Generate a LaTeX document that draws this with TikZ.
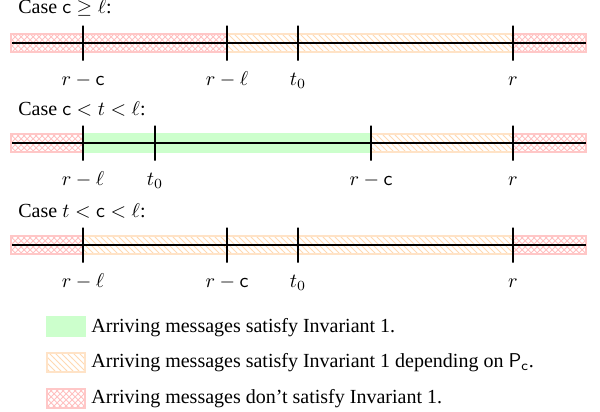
\documentclass[tikz,border=0pt]{standalone}
\usepackage[no-math]{fontspec}
\setmainfont{Liberation Serif}
\usetikzlibrary{patterns}
\begin{document}
\begin{tikzpicture}[x=0.5pt,y=-0.5pt,
  band/.style={line width=1pt},
  okband/.style={band, fill=green!20, draw=green!20},
  maybeband/.style={band, draw=orange!22, pattern=north west lines, pattern color=orange!30},
  badband/.style={band, draw=red!22, pattern=crosshatch, pattern color=red!25},
  axis/.style={line width=1pt},
  tickmark/.style={draw, line width=1.3pt, minimum width=0pt, minimum height=17.5pt, inner sep=0pt, outer sep=0pt},
  lbl/.style={anchor=base, inner sep=0pt},
  case/.style={anchor=base west, inner sep=0pt},
  swatch/.style={minimum width=19pt, minimum height=9.5pt, inner sep=0pt},
  legtxt/.style={anchor=base west, inner sep=0pt}]
\useasboundingbox (0,0) rectangle (600,412);
% ---------- Row 1 ----------
\node[case] (case1) at (18,13.5) {Case $\mathsf{c}\geq\ell$:};
\draw[badband] (11,34) rectangle (227,52);
\draw[maybeband] (227,34) rectangle (513,52);
\draw[badband] (513,34) rectangle (586,52);
\coordinate (a1s) at (12,43); \coordinate (a1e) at (586,43);
\draw[axis] (a1s) -- (a1e);
\foreach \x/\t/\n in {83/{r-\mathsf{c}}/a, 227/{r-\ell}/b, 298/{t_0}/c, 513/{r}/d}{
  \node[tickmark] (t1\n) at (\x,43) {};
  \node[lbl] (l1\n) at (\x,85) {$\t$};
}
% ---------- Row 2 ----------
\node[case] (case2) at (18,115) {Case $\mathsf{c}<t<\ell$:};
\draw[badband] (11,134) rectangle (83,152);
\draw[okband] (83,134) rectangle (371,152);
\draw[maybeband] (371,134) rectangle (513,152);
\draw[badband] (513,134) rectangle (586,152);
\coordinate (a2s) at (12,143); \coordinate (a2e) at (586,143);
\draw[axis] (a2s) -- (a2e);
\foreach \x/\t/\n in {83/{r-\ell}/a, 155/{t_0}/b, 371/{r-\mathsf{c}}/c, 513/{r}/d}{
  \node[tickmark] (t2\n) at (\x,143) {};
  \node[lbl] (l2\n) at (\x,185) {$\t$};
}
% ---------- Row 3 ----------
\node[case] (case3) at (18,217) {Case $t<\mathsf{c}<\ell$:};
\draw[badband] (11,236) rectangle (83,254);
\draw[maybeband] (83,236) rectangle (513,254);
\draw[badband] (513,236) rectangle (586,254);
\coordinate (a3s) at (12,245); \coordinate (a3e) at (586,245);
\draw[axis] (a3s) -- (a3e);
\foreach \x/\t/\n in {83/{r-\ell}/a, 227/{r-\mathsf{c}}/b, 298/{t_0}/c, 513/{r}/d}{
  \node[tickmark] (t3\n) at (\x,245) {};
  \node[lbl] (l3\n) at (\x,287) {$\t$};
}
% ---------- Legend ----------
\node[swatch, okband] (s1) at (65.5,326) {};
\node[legtxt] (g1) at (91,332) {Arriving messages satisfy Invariant 1.};
\node[swatch, maybeband] (s2) at (65.5,362) {};
\node[legtxt] (g2) at (91,367) {Arriving messages satisfy Invariant 1 depending on $\mathsf{P}_{\mathsf{c}}$.};
\node[swatch, badband] (s3) at (65.5,398) {};
\node[legtxt] (g3) at (91,403) {Arriving messages don’t satisfy Invariant 1.};
\end{tikzpicture}
\end{document}
